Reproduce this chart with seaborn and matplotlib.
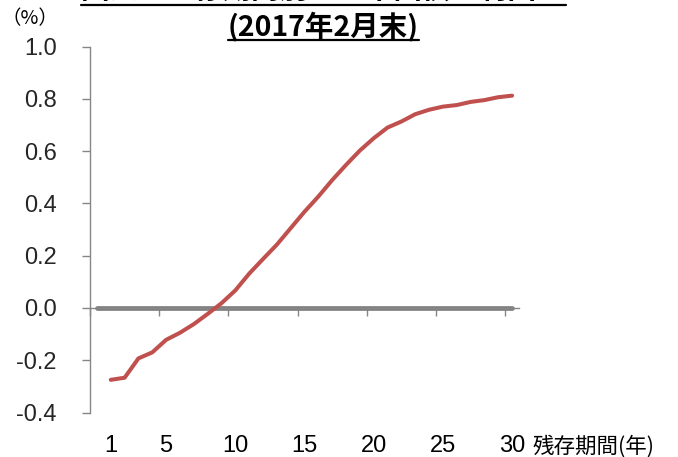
import matplotlib
matplotlib.use("Agg")
import matplotlib.pyplot as plt
from matplotlib.lines import Line2D
import seaborn as sns
import pandas as pd

# ---- data ----
years = list(range(1, 31))
yields = [-0.275, -0.267, -0.193, -0.170, -0.122, -0.095, -0.062, -0.023, 0.018, 0.067,
          0.131, 0.187, 0.242, 0.305, 0.368, 0.426, 0.489, 0.547, 0.602, 0.649,
          0.690, 0.713, 0.741, 0.758, 0.770, 0.776, 0.788, 0.795, 0.806, 0.812]
baseline_years = list(range(0, 31))
baseline_values = [0.0] * 31
x_labels = [1, 5, 10, 15, 20, 25, 30]
y_ticks = [-0.4, -0.2, 0.0, 0.2, 0.4, 0.6, 0.8, 1.0]
title_line1 = "図表：残存期間別の日本国債の利回り"
title_line2 = "(2017年2月末)"
unit_label = "（%）"
x_axis_label = "残存期間(年)"

df = pd.DataFrame({"year": years, "yield": yields})
base = pd.DataFrame({"year": baseline_years, "value": baseline_values})

sns.set_theme(style="white")
plt.rcParams["font.family"] = ["Liberation Sans", "Noto Sans CJK JP", "DejaVu Sans"]

W, H = 678, 457
fig = plt.figure(figsize=(W / 100, H / 100), dpi=100)
ax = fig.add_axes([90 / W, 1 - 412.5 / H, 429 / W, 366 / H])

grey = "#868686"
sns.lineplot(data=base, x="year", y="value", ax=ax, color="#808080", linewidth=3.4,
             solid_capstyle="round", zorder=2)
sns.lineplot(data=df, x="year", y="yield", ax=ax, color="#C0504D", linewidth=2.9,
             solid_capstyle="round", solid_joinstyle="round", zorder=3)

ax.set_xlim(-0.5, 30.5)
ax.set_ylim(-0.4, 1.0)
ax.set_xlabel("")
ax.set_ylabel("")

for s in ["top", "right"]:
    ax.spines[s].set_visible(False)
ax.spines["left"].set_color(grey)
ax.spines["left"].set_linewidth(1.0)
ax.spines["bottom"].set_position(("data", 0))
ax.spines["bottom"].set_color(grey)
ax.spines["bottom"].set_linewidth(1.0)

ax.set_yticks(y_ticks)
ax.set_yticklabels([f"{v:.1f}" for v in y_ticks], fontsize=17, fontfamily="Liberation Sans")
ax.tick_params(axis="y", direction="out", length=6, width=1, color=grey, pad=18, left=True)

ax.set_xticks([-0.5 + 5 * i for i in range(7)])
ax.set_xticklabels([])
ax.tick_params(axis="x", direction="out", length=6, width=1, color=grey, bottom=True)

for v in x_labels:
    ax.text(v, -0.0915, str(v), transform=ax.get_xaxis_transform(), ha="center", va="center",
            fontsize=17, fontfamily="Liberation Sans", color="black", clip_on=False)

fig.text(533 / W, 1 - 446.5 / H, x_axis_label, ha="left", va="center", fontsize=15.5,
         fontfamily=["Noto Sans CJK JP"], color="black")
fig.text(58 / W, 1 - 18.5 / H, unit_label, ha="right", va="center", fontsize=14,
         fontfamily=["Noto Sans CJK JP"], color="black")

t1 = fig.text(323.5 / W, 1 + 9 / H, title_line1, ha="center", va="center", fontsize=20.5,
              fontweight="bold", fontfamily=["Noto Sans CJK JP"], color="black")
t2 = fig.text(323.5 / W, 1 - 26 / H, title_line2, ha="center", va="center", fontsize=20.5,
              fontweight="bold", fontfamily=["Noto Sans CJK JP"], color="black")

fig.canvas.draw()
r = fig.canvas.get_renderer()
for t, ypx in [(t1, 5), (t2, 39.5)]:
    bb = t.get_window_extent(r)
    fig.add_artist(Line2D([bb.x0 / W, bb.x1 / W], [1 - ypx / H, 1 - ypx / H],
                          transform=fig.transFigure, color="black", linewidth=1.6))

fig.savefig("out.png", dpi=100)
